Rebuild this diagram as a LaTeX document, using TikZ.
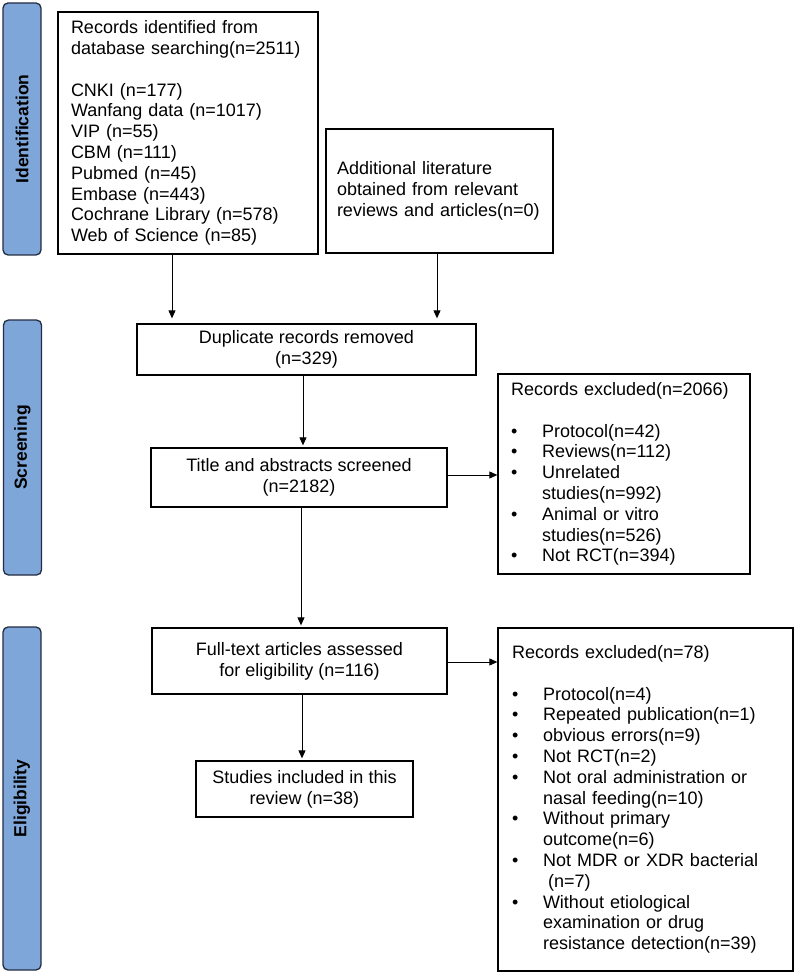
\documentclass[tikz,border=0pt]{standalone}
\usepackage{fontspec}
\setmainfont{Liberation Sans}
\usetikzlibrary{arrows.meta,calc}
\definecolor{sidefill}{RGB}{126,166,216}
\definecolor{sidedraw}{RGB}{35,45,65}
\newcommand\bl{\makebox[31pt][l]{•}}
\newcommand\ind{\hspace*{31pt}}
\begin{document}
\begin{tikzpicture}[x=1pt,y=-1pt,
 box/.style={draw=black,line width=1.3pt,fill=white,inner sep=0pt,font=\fontsize{18}{20.8}\selectfont},
 lbox/.style={box,align=left,inner xsep=13pt},
 cbox/.style={box,align=center},
 side/.style={draw=sidedraw,fill=sidefill,line width=1.3pt,rounded corners=5pt,rotate=90,inner sep=0pt,font=\fontsize{17.5}{20}\selectfont\bfseries},
 arr/.style={-{Triangle[length=8pt,width=7pt]},line width=0.9pt}]
\useasboundingbox (0,0) rectangle (796,973);
% sidebars
\node[side,minimum width=252pt,minimum height=38pt] (sid) at (22,129) {Identification};
\node[side,minimum width=255pt,minimum height=38pt] (ssc) at (22.5,447.5) {Screening};
\node[side,minimum width=343pt,minimum height=38pt] (sel) at (22,798.5) {Eligibility};
% boxes
\node[lbox,text width=234pt,minimum height=242pt] (db) at (188,133) {Records identified from\\database searching(n=2511)\\[20.8pt]CNKI (n=177)\\Wanfang data (n=1017)\\VIP (n=55)\\CBM (n=111)\\Pubmed (n=45)\\Embase (n=443)\\Cochrane Library (n=578)\\Web of Science (n=85)};
\node[lbox,inner xsep=11pt,text width=205pt,minimum height=124pt] (add) at (439.5,191) {Additional literature\\obtained from relevant\\reviews and articles(n=0)};
\node[cbox,minimum width=339pt,minimum height=51pt] (dup) at (306.5,349.5) {Duplicate records removed\\(n=329)};
\node[cbox,minimum width=296pt,minimum height=59pt] (title) at (299,477.5) {Title and abstracts screened\\(n=2182)};
\node[lbox,text width=226pt,minimum height=200pt] (ex1) at (624,474) {Records excluded(n=2066)\\[20.8pt]\bl Protocol(n=42)\\\bl Reviews(n=112)\\\bl Unrelated\\\ind studies(n=992)\\\bl Animal or vitro\\\ind studies(n=526)\\\bl Not RCT(n=394)};
\node[cbox,minimum width=295pt,minimum height=66pt] (full) at (299.5,661) {Full-text articles assessed\\for eligibility (n=116)};
\node[lbox,inner xsep=14pt,text width=267pt,minimum height=343pt] (ex2) at (645.5,799.5) {Records excluded(n=78)\\[20.8pt]\bl Protocol(n=4)\\\bl Repeated publication(n=1)\\\bl obvious errors(n=9)\\\bl Not RCT(n=2)\\\bl Not oral administration or\\\ind nasal feeding(n=10)\\\bl Without primary\\\ind outcome(n=6)\\\bl Not MDR or XDR bacterial\\\ind\hspace*{5pt}(n=7)\\\bl Without etiological\\\ind examination or drug\\\ind resistance detection(n=39)};
\node[cbox,minimum width=217pt,minimum height=56pt] (inc) at (304.5,789) {Studies included in this\\review (n=38)};
% connectors
\coordinate (a1) at (172,0);
\coordinate (a2) at (437,0);
\coordinate (a3) at (303,0);
\coordinate (a4) at (301,0);
\coordinate (a5) at (302,0);
\coordinate (b1) at (0,475);
\coordinate (b2) at (0,662);
\draw[arr,shorten >=5pt] (db.south -| a1) -- (dup.north -| a1);
\draw[arr,shorten >=5pt] (add.south -| a2) -- (dup.north -| a2);
\draw[arr,shorten >=2pt] (dup.south -| a3) -- (title.north -| a3);
\draw[arr,shorten >=2pt] (title.south -| a4) -- (full.north -| a4);
\draw[arr,shorten >=2pt] (full.south -| a5) -- (inc.north -| a5);
\draw[arr] (title.east |- b1) -- (ex1.west |- b1);
\draw[arr] (full.east |- b2) -- (ex2.west |- b2);
\end{tikzpicture}
\end{document}
